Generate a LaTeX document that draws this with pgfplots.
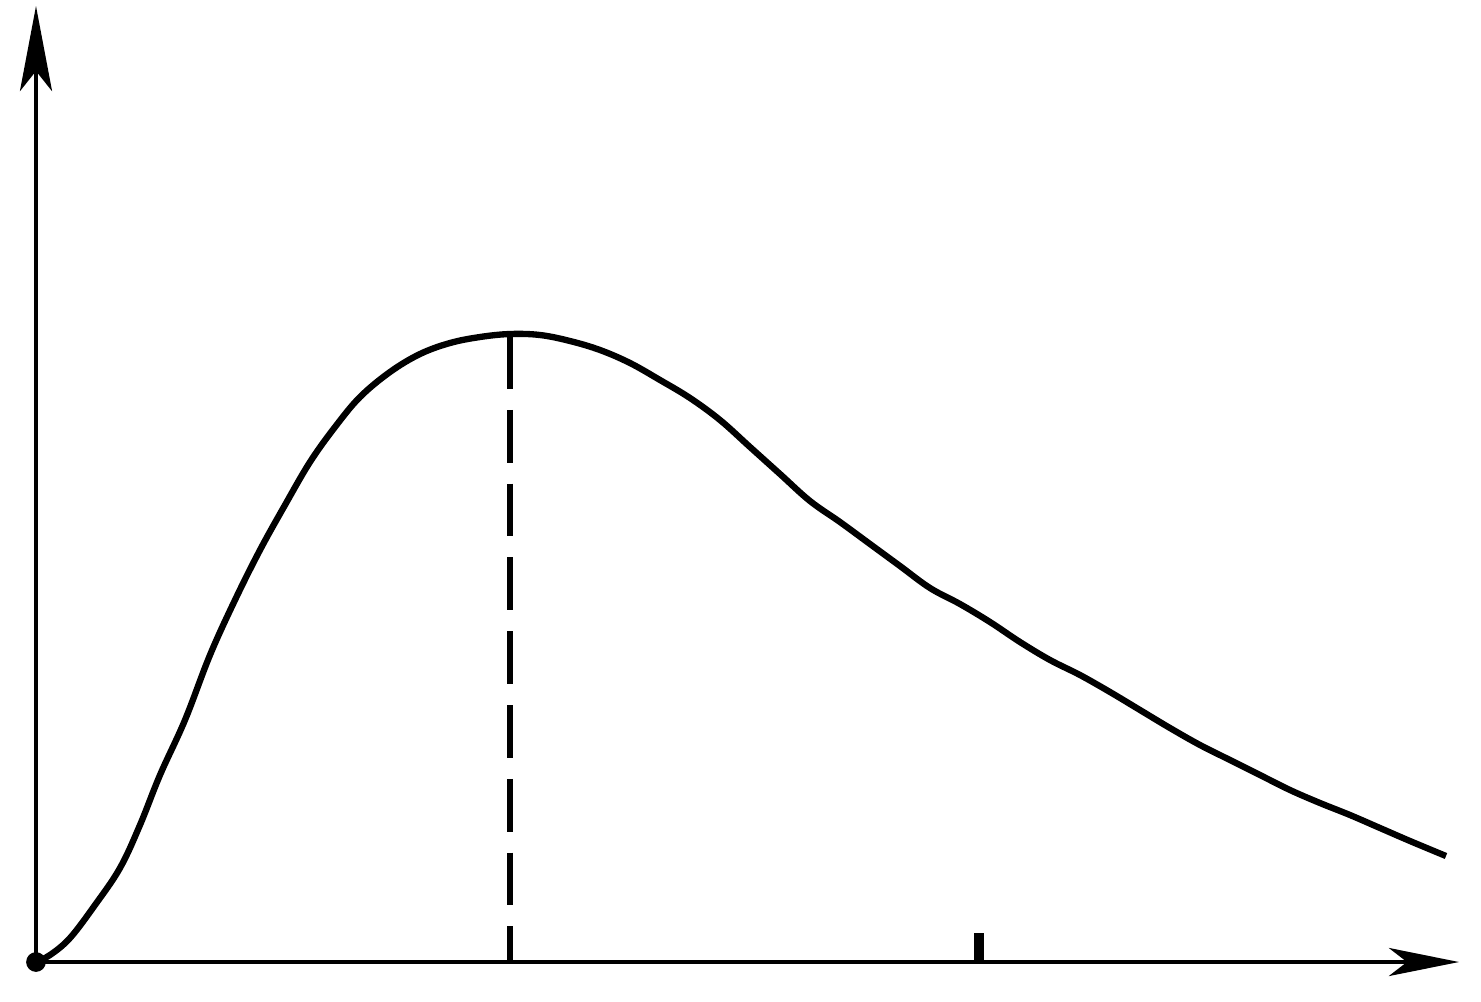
\documentclass[border=0pt]{standalone}
\usepackage{pgfplots}
\pgfplotsset{compat=1.18}
\usetikzlibrary{arrows.meta}
\begin{document}
\begin{tikzpicture}
\begin{axis}[
  scale only axis, width=14.81cm, height=10.01cm,
  xmin=0, xmax=1481, ymin=0, ymax=1001, y dir=reverse,
  hide axis, clip=false]
% bounding box
\addplot[draw=none] coordinates {(0,0) (1481,1001)};
% axes
\addplot[line width=1.4pt, -{Stealth[length=0.85cm,width=0.32cm,inset=0.2cm]}] coordinates {(36,962) (36,6)};
\addplot[line width=1.4pt, -{Stealth[length=0.7cm,width=0.28cm,inset=0.18cm]}] coordinates {(36,962) (1459,962)};
% tick
\addplot[line width=2.6pt] coordinates {(979,962) (979,933)};
% dashed line at maximum
\addplot[line width=1.5pt, dash pattern=on 15pt off 6pt] coordinates {(510,336) (510,962)};
% curve
\addplot[line width=1.8pt, smooth, tension=0.6] coordinates {
(36,962) (50,955) (70,938) (95,905) (120,868) (140,825) (160,775) (185,720)
(210,655) (235,600) (260,550) (285,505) (310,462) (335,427) (360,397) (390,372)
(420,354) (450,343) (480,337) (510,334) (540,335) (570,341) (600,350) (630,363)
(660,380) (690,398) (720,420) (750,447) (780,474) (810,501) (840,522) (870,544)
(900,566) (930,588) (960,604) (990,622) (1020,642) (1050,660) (1080,675) (1110,692)
(1140,710) (1170,728) (1200,745) (1230,760) (1260,775) (1290,790) (1320,803)
(1350,815) (1380,828) (1410,841) (1446,856)};
% origin dot
\addplot[only marks, mark=*, mark size=2.6pt, black] coordinates {(36,962)};
\end{axis}
\end{tikzpicture}
\end{document}
